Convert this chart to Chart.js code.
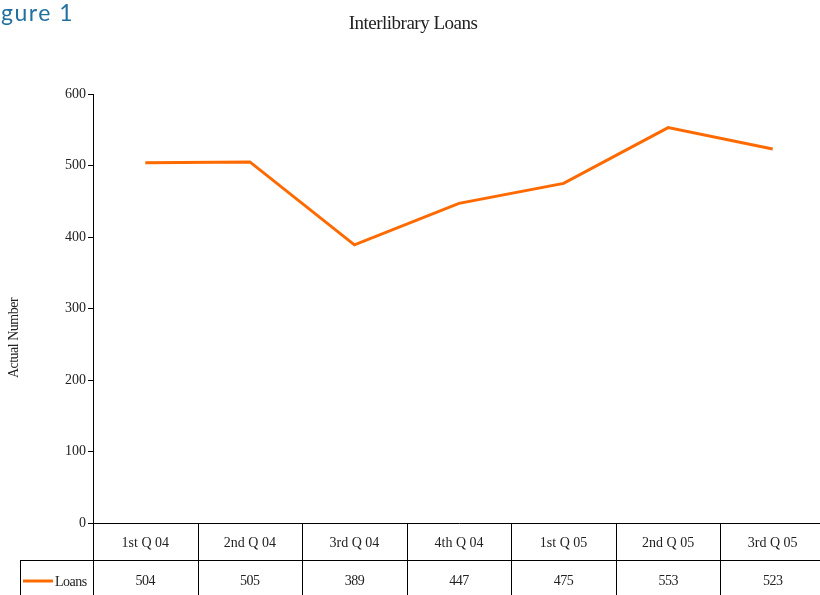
<!DOCTYPE html>
<html>
<head>
<meta charset="utf-8">
<script src="https://cdn.jsdelivr.net/npm/chart.js@4.4.1/dist/chart.umd.min.js"></script>
<style>
    body { margin: 0; background: #fff; overflow: hidden; }
    #wrap { width: 820px; height: 595px; overflow: hidden; }
</style>
</head>
<body>
<div id="wrap"><canvas id="loansChart" width="826" height="595"></canvas></div>
<script>
const quarters = ['1st Q 04', '2nd Q 04', '3rd Q 04', '4th Q 04', '1st Q 05', '2nd Q 05', '3rd Q 05'];
const loans = [504, 505, 389, 447, 475, 553, 523];
const yTicks = [0, 100, 200, 300, 400, 500, 600];

const serif = "'Liberation Serif', 'Times New Roman', serif";
const lineColor = '#ff6a00';

// draws the title, axis caption and the data table under the plot
const tablePlugin = {
    id: 'dataTable',
    afterDraw(chart) {
        const ctx = chart.ctx;
        const area = chart.chartArea;
        const x = chart.scales.x;
        const rowTop = area.bottom;
        const rowMid = 560;
        const rowEnd = chart.height;

        ctx.save();
        ctx.strokeStyle = '#000';
        ctx.lineWidth = 1;
        ctx.beginPath();
        // y axis carried down through the table
        ctx.moveTo(area.left + 0.5, rowTop);
        ctx.lineTo(area.left + 0.5, rowEnd);
        // row divider
        ctx.moveTo(20, rowMid + 0.5);
        ctx.lineTo(chart.width, rowMid + 0.5);
        ctx.moveTo(20.5, rowMid);
        ctx.lineTo(20.5, rowEnd);
        // cell borders between categories
        for (let i = 1; i < quarters.length; i++) {
            const bx = Math.round((x.getPixelForValue(i - 1) + x.getPixelForValue(i)) / 2) + 0.5;
            ctx.moveTo(bx, rowTop);
            ctx.lineTo(bx, rowEnd);
        }
        ctx.stroke();

        // values row
        ctx.fillStyle = '#222';
        ctx.font = '14px ' + serif;
        ctx.letterSpacing = '-0.5px';
        ctx.textAlign = 'center';
        ctx.textBaseline = 'middle';
        loans.forEach((v, i) => {
            ctx.fillText(String(v), x.getPixelForValue(i), 581);
        });

        // legend key
        ctx.strokeStyle = lineColor;
        ctx.lineWidth = 3;
        ctx.beginPath();
        ctx.moveTo(23, 581);
        ctx.lineTo(53, 581);
        ctx.stroke();
        ctx.textAlign = 'left';
        ctx.fillText('Loans', 55, 582);

        // title
        ctx.font = '19px ' + serif;
        ctx.textAlign = 'center';
        ctx.fillText('Interlibrary Loans', 413, 24);

        // y caption
        ctx.font = '14px ' + serif;
        ctx.translate(14, 338);
        ctx.rotate(-Math.PI / 2);
        ctx.fillText('Actual Number', 0, 0);
        ctx.restore();

        // cut-off figure caption at top left
        ctx.save();
        ctx.fillStyle = '#2270a0';
        ctx.font = '23px Lato, sans-serif';
        ctx.letterSpacing = '1.5px';
        ctx.textAlign = 'left';
        ctx.textBaseline = 'alphabetic';
        ctx.fillText('gure 1', 1, 21);
        ctx.restore();
    }
};

new Chart(document.getElementById('loansChart'), {
    type: 'line',
    data: {
        labels: quarters,
        datasets: [{
            label: 'Loans',
            data: loans,
            borderColor: lineColor,
            borderWidth: 3,
            pointRadius: 0,
            tension: 0,
            fill: false
        }]
    },
    options: {
        responsive: false,
        devicePixelRatio: 1,
        animation: false,
        layout: { padding: { top: 94, left: 0, right: 1, bottom: 0 } },
        plugins: {
            legend: { display: false },
            title: { display: false },
            tooltip: { enabled: false }
        },
        scales: {
            x: {
                offset: true,
                afterFit(scale) { scale.height = 72; },
                grid: { display: false },
                border: { display: true, color: '#000', width: 1 },
                ticks: {
                    padding: 4,
                    color: '#222',
                    font: { family: serif, size: 14 }
                }
            },
            y: {
                min: 0,
                max: 600,
                afterFit(scale) { scale.width = 93; },
                afterBuildTicks(scale) { scale.ticks = yTicks.map(v => ({ value: v })); },
                grid: { drawOnChartArea: false, drawTicks: true, tickLength: 5, color: '#000' },
                border: { display: true, color: '#000', width: 1 },
                ticks: {
                    padding: 2,
                    color: '#222',
                    font: { family: serif, size: 14 }
                }
            }
        }
    },
    plugins: [tablePlugin]
});
</script>
</body>
</html>
